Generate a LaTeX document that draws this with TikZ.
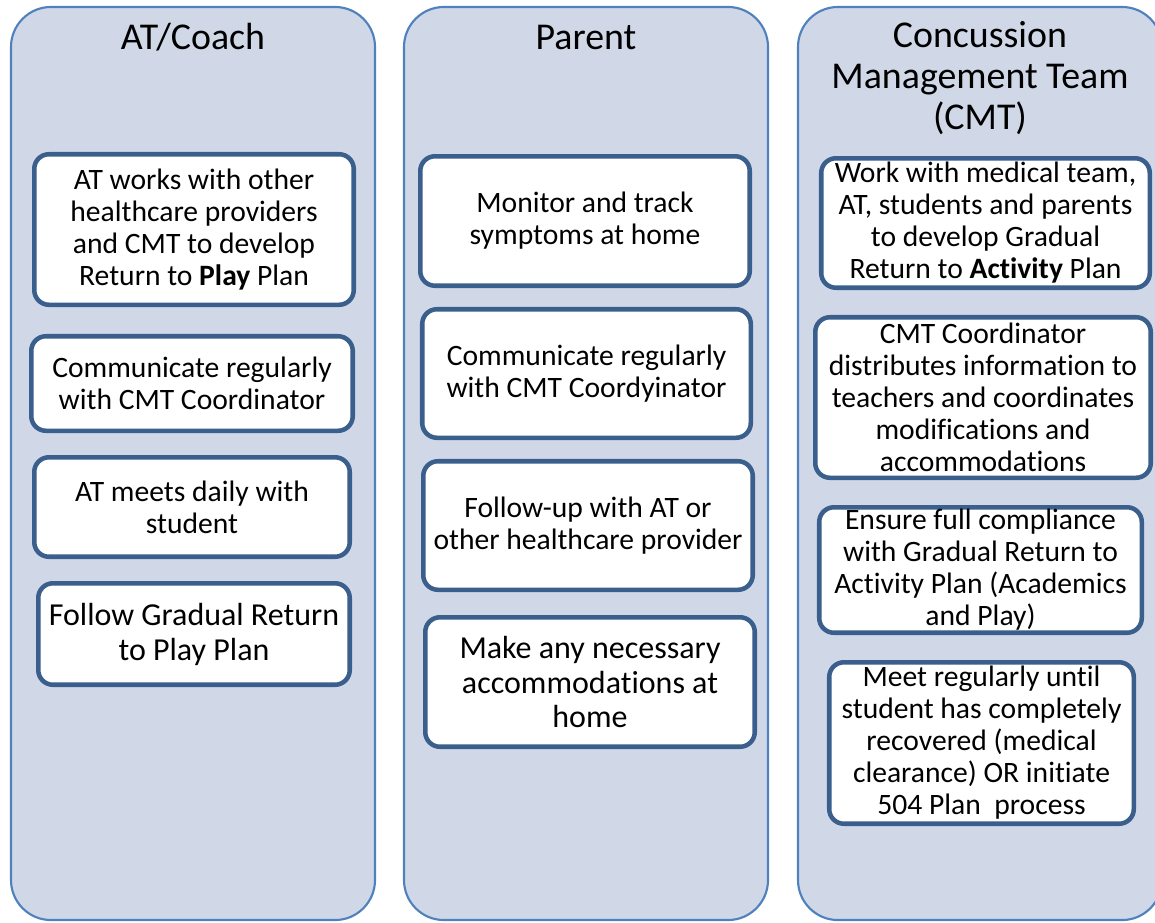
\documentclass[tikz,border=0pt]{standalone}
\usepackage{fontspec}
\setmainfont[Ligatures=NoCommon]{Carlito}
\definecolor{colfill}{HTML}{D0D8E8}
\definecolor{colline}{HTML}{4F81BD}
\definecolor{boxline}{HTML}{3A5F8D}
\begin{document}
\begin{tikzpicture}[x=0.75pt,y=-0.75pt,
  lane/.style={draw=colline,line width=1.6pt,fill=colfill,rounded corners=30pt,
    minimum width=273pt,minimum height=684.8pt,inner sep=0pt},
  head/.style={align=center,font=\fontsize{28.4}{31}\selectfont},
  item/.style={draw=boxline,line width=3.4pt,fill=white,rounded corners=11pt,
    align=center,inner sep=0pt,font=\fontsize{22.2}{24}\selectfont},
  bigitem/.style={item,font=\fontsize{24}{26.2}\selectfont}]
\useasboundingbox (0,0) rectangle (1155,922);
% the three lanes
\node [lane] (coach) at (193,463.5) {};
\node [lane] (parent) at (586,463.5) {};
\node [lane] (cmt) at (980,463.5) {};
\node [head] (coachhead) at (193,37) {AT/Coach};
\node [head] (parenthead) at (586,37) {Parent};
\node [head] (cmthead) at (980,78) {Concussion\\Management Team\\(CMT)};
% AT/Coach
\node [item,minimum width=239.6pt,minimum height=112.9pt] (coach1) at (194,229.5)
  {AT works with other\\healthcare providers\\and CMT to develop\\Return to \textbf{Play} Plan};
\node [item,minimum width=241.1pt,minimum height=70.9pt] (coach2) at (192,383.5)
  {Communicate regularly\\with CMT Coordinator};
\node [item,minimum width=236.6pt,minimum height=74.6pt] (coach3) at (192,507)
  {AT meets daily with\\student};
\node [bigitem,minimum width=233.6pt,minimum height=76.1pt] (coach4) at (194,634)
  {Follow Gradual Return\\to Play Plan};
% Parent
\node [item,minimum width=247.1pt,minimum height=97.1pt] (parent1) at (585,221)
  {Monitor and track\\symptoms at home};
\node [item,minimum width=246.4pt,minimum height=96.4pt] (parent2) at (586.5,373.5)
  {Communicate regularly\\with CMT Coordyinator};
\node [item,minimum width=247.1pt,minimum height=96.4pt] (parent3) at (588,525.5)
  {Follow-up with AT or\\other healthcare provider};
\node [bigitem,minimum width=247.1pt,minimum height=97.1pt] (parent4) at (590,682)
  {Make any necessary\\accommodations at\\home};
% CMT
\node [item,minimum width=246.4pt,minimum height=97.1pt] (cmt1) at (985.5,223)
  {Work with medical team,\\AT, students and parents\\to develop Gradual\\Return to \textbf{Activity} Plan};
\node [item,minimum width=251.6pt,minimum height=120.4pt] (cmt2) at (983,397.5)
  {CMT Coordinator\\distributes information to\\teachers and coordinates\\modifications and\\accommodations};
\node [item,minimum width=241.9pt,minimum height=94.1pt] (cmt3) at (980.5,570)
  {Ensure full compliance\\with Gradual Return to\\Activity Plan (Academics\\and Play)};
\node [item,minimum width=228.4pt,minimum height=121.1pt] (cmt4) at (981.5,743)
  {Meet regularly until\\student has completely\\recovered (medical\\clearance) OR initiate\\504 Plan\ \ process};
\end{tikzpicture}
\end{document}
